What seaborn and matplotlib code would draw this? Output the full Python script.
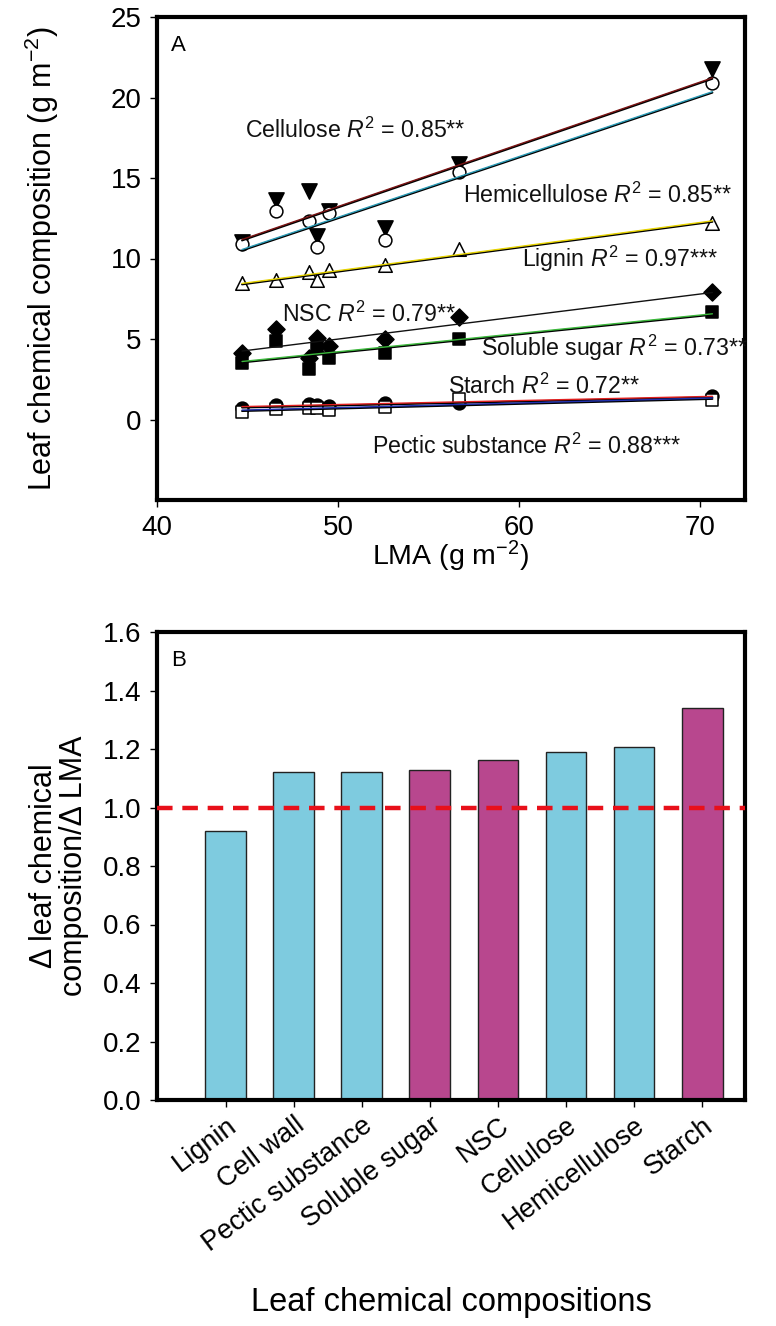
import numpy as np
import pandas as pd
import matplotlib
matplotlib.use("Agg")
import matplotlib.pyplot as plt
import matplotlib.patheffects as pe
import seaborn as sns

# ---------------- Data: panel A ----------------
lma = [44.7, 46.6, 48.4, 48.85, 49.5, 52.6, 56.7, 70.7]
cellulose = [11.05, 13.66, 14.22, 11.38, 12.92, 11.9, 15.85, 21.8]
hemicellulose = [10.9, 12.98, 12.36, 10.74, 12.83, 11.17, 15.37, 20.9]
lignin = [8.45, 8.68, 9.14, 8.68, 9.28, 9.6, 10.6, 12.21]
nsc = [4.15, 5.61, 3.84, 5.09, 4.57, 4.98, 6.34, 7.89]
soluble_sugar = [3.53, 4.88, 3.12, 4.47, 3.84, 4.15, 5.03, 6.69]
starch = [0.73, 0.93, 0.98, 0.89, 0.83, 1.04, 1.04, 1.45]
pectic = [0.46, 0.67, 0.73, 0.69, 0.62, 0.77, 1.29, 1.20]

labels_a = ["Cellulose", "Hemicellulose", "Lignin", "NSC",
            "Soluble sugar", "Starch", "Pectic substance"]
r2_text = ["0.85**", "0.85**", "0.97***", "0.79**", "0.73**", "0.72**", "0.88***"]
label_x = [44.85, 56.9, 60.2, 46.9, 57.9, 56.07, 51.86]
label_y = [17.95, 13.9, 9.97, 6.54, 4.47, 2.08, -1.66]

# ---------------- Data: panel B ----------------
categories = ["Lignin", "Cell wall", "Pectic substance", "Soluble sugar",
              "NSC", "Cellulose", "Hemicellulose", "Starch"]
ratios = [0.918, 1.120, 1.122, 1.129, 1.161, 1.191, 1.206, 1.339]
groups = ["wall", "wall", "wall", "nsc", "nsc", "wall", "wall", "nsc"]

# ---------------- Style ----------------
sns.set_theme(style="ticks")
plt.rcParams["font.family"] = ["Liberation Sans", "DejaVu Sans"]
plt.rcParams["mathtext.fontset"] = "custom"
plt.rcParams["mathtext.rm"] = "Liberation Sans"
plt.rcParams["mathtext.it"] = "Liberation Sans:italic"
plt.rcParams["mathtext.bf"] = "Liberation Sans:bold"
plt.rcParams["text.color"] = "black"
plt.rcParams["axes.labelcolor"] = "black"
plt.rcParams["xtick.color"] = "black"
plt.rcParams["ytick.color"] = "black"

W, H = 776, 1326
fig = plt.figure(figsize=(W / 100, H / 100), dpi=100)

def px_axes(left, top, right, bottom):
    return fig.add_axes([left / W, 1 - bottom / H, (right - left) / W, (bottom - top) / H])

tick_fs = 20
ann_fs = 16.7

# ---------------- Panel A ----------------
axA = px_axes(157, 17, 745, 500)
series = [
    (cellulose, "v", "black", "black", "#7a1414", True),
    (hemicellulose, "o", "white", "black", "#2a9ab5", True),
    (lignin, "^", "white", "black", "#e8d400", True),
    (nsc, "D", "black", "black", "#111111", False),
    (soluble_sugar, "s", "black", "black", "#3cb83c", True),
    (starch, "o", "black", "black", "#e02020", True),
    (pectic, "s", "white", "black", "#2030b0", True),
]
sizes = {"v": 120, "o": 85, "^": 95, "D": 75, "s": 75}
for vals, mk, fc, ec, lc, shadow in series:
    df = pd.DataFrame({"LMA": lma, "val": vals})
    sns.scatterplot(data=df, x="LMA", y="val", marker=mk, s=sizes[mk],
                    color=fc, edgecolor=ec, linewidth=1.1, ax=axA, zorder=3)
for vals, mk, fc, ec, lc, shadow in series:
    df = pd.DataFrame({"LMA": lma, "val": vals})
    effects = ([pe.Stroke(linewidth=1.4, foreground="black", offset=(0, -0.7)), pe.Normal()]
               if shadow else [pe.Normal()])
    sns.regplot(data=df, x="LMA", y="val", scatter=False, ci=None, truncate=True,
                ax=axA, line_kws=dict(color=lc, lw=1.0, zorder=4, path_effects=effects))

for name, r2, tx, ty in zip(labels_a, r2_text, label_x, label_y):
    axA.text(tx, ty, name + r" $\it{R}^2$ = " + r2, fontsize=ann_fs, va="center", ha="left",
             color="#111111", zorder=5)

axA.text(0.024, 0.94, "A", transform=axA.transAxes, fontsize=16, va="center", ha="left")
axA.set_xlim(40, 72.5)
axA.set_ylim(-5, 25)
axA.set_xticks([40, 50, 60, 70])
axA.set_yticks([0, 5, 10, 15, 20, 25])
axA.set_xlabel("LMA (g m$^{-2}$)", fontsize=20.5, labelpad=-2)
axA.set_ylabel("Leaf chemical composition (g m$^{-2}$)", fontsize=22, labelpad=36)

# ---------------- Panel B ----------------
axB = px_axes(157, 632, 745, 1100)
dfb = pd.DataFrame({"cat": categories, "ratio": ratios, "grp": groups})
sns.barplot(data=dfb, x="cat", y="ratio", hue="grp",
            palette={"wall": "#7ecbdf", "nsc": "#b8478e"}, dodge=False,
            width=0.6, edgecolor="#222222", linewidth=1.0, legend=False, ax=axB,
            saturation=1)
axB.axhline(1.0, color="#e8101a", lw=3.2, ls=(0, (3.5, 2.2)), zorder=5)
axB.set_xlim(-1.01, 7.63)
axB.set_ylim(0, 1.6)
axB.set_yticks(np.arange(0, 1.61, 0.2))
axB.set_yticklabels([f"{v:.1f}" for v in np.arange(0, 1.61, 0.2)])
axB.set_xticks(range(len(categories)))
axB.set_xticklabels(categories, rotation=37, ha="right", rotation_mode="anchor")
axB.text(0.024, 0.94, "B", transform=axB.transAxes, fontsize=16, va="center", ha="left")
axB.set_xlabel("Leaf chemical compositions", fontsize=23.5, labelpad=22)
axB.set_ylabel("Δ leaf chemical\ncomposition/Δ LMA", fontsize=22, labelpad=10,
               linespacing=1.0)

for ax in (axA, axB):
    for sp in ax.spines.values():
        sp.set_visible(True)
        sp.set_linewidth(3)
        sp.set_color("black")
    ax.tick_params(axis="both", direction="out", length=5, width=1, labelsize=tick_fs,
                   colors="black", pad=6)
    ax.set_facecolor("white")
axB.tick_params(axis="x", labelsize=19.5, pad=4)

fig.savefig("out.png", dpi=100, facecolor="white")
